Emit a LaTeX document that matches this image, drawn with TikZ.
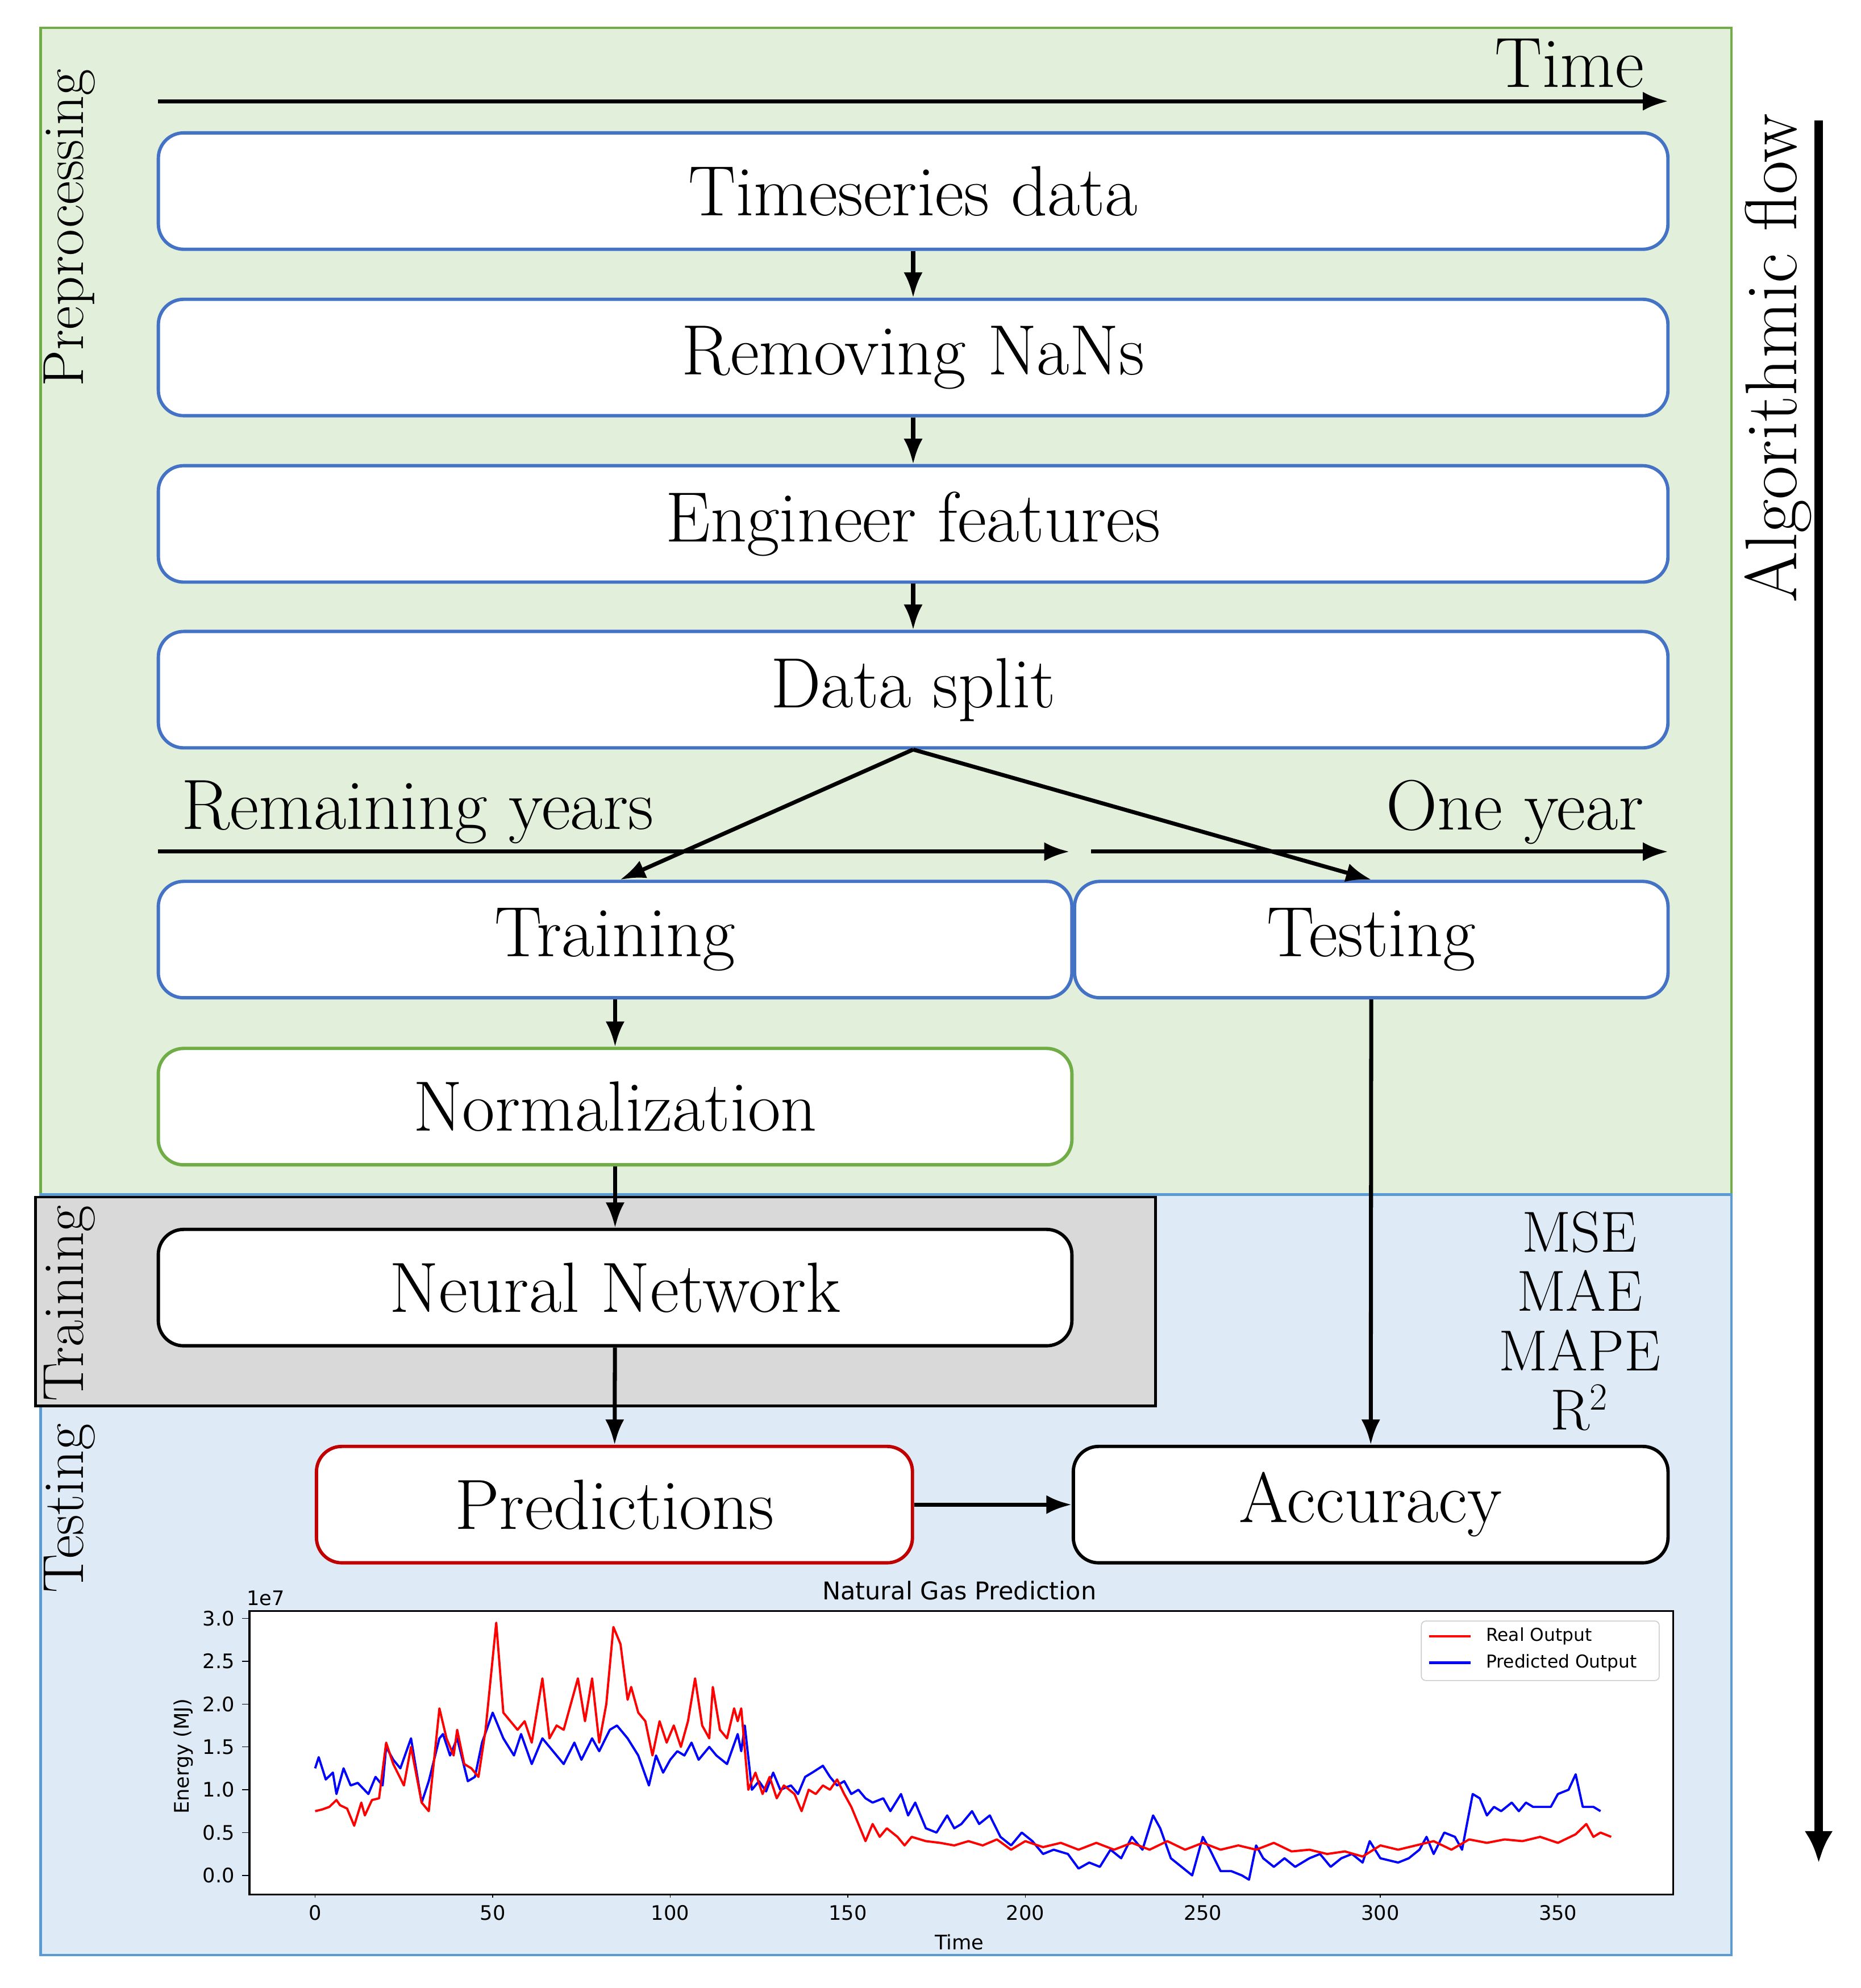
\documentclass[tikz,border=0pt]{standalone}
\usepackage{fontspec}
\newfontfamily\chartsans{DejaVu Sans}
\usetikzlibrary{arrows.meta}
\definecolor{bggreen}{HTML}{E2EFDA}
\definecolor{edgegreen}{HTML}{70AD47}
\definecolor{bgblue}{HTML}{DEEBF7}
\definecolor{edgeblue}{HTML}{5B9BD5}
\definecolor{boxblue}{HTML}{4472C4}
\definecolor{boxred}{HTML}{C00000}
\definecolor{graybg}{HTML}{D9D9D9}
\begin{document}
\begin{tikzpicture}[x=0.02cm,y=-0.02cm,
  box/.style={draw=boxblue,fill=white,line width=1.5pt,rounded corners=0.4cm,minimum height=1.84cm,font=\fontsize{32}{38}\selectfont,inner sep=0pt},
  arr/.style={line width=1.8pt,-{Latex[length=0.4cm,width=0.3cm]}},
  side/.style={rotate=90,font=\fontsize{26}{30}\selectfont},
  tick/.style={font=\chartsans\fontsize{9}{11}\selectfont}]
\useasboundingbox (0,0) rectangle (1470,1571);
\fill[white] (0,0) rectangle (1470,1571);
% backgrounds
\draw[fill=bggreen,draw=edgegreen,line width=1.2pt] (32,22) rectangle (1368,944);
\draw[fill=bgblue,draw=edgeblue,line width=1.2pt] (32,944) rectangle (1368,1545);
\draw[fill=graybg,draw=black,line width=1.2pt] (28,946) rectangle (913,1111);
% side labels
\node[side] (lpre) at (55,180) {Preprocessing};
\node[side] (ltr) at (55,1030) {Training};
\node[side] (lte) at (55,1192) {Testing};
% time arrow
\coordinate (t0) at (125,80); \coordinate (t1) at (1318,80);
\draw[arr] (t0) -- (t1);
\node[font=\fontsize{32}{38}\selectfont] (ltime) at (1240,50) {Time};
% boxes
\node[box,minimum width=23.86cm] (ts) at (721.5,151) {Timeseries data};
\node[box,minimum width=23.86cm] (rn) at (721.5,282.5) {Removing NaNs};
\node[box,minimum width=23.86cm] (ef) at (721.5,414) {Engineer features};
\node[box,minimum width=23.86cm] (ds) at (721.5,545) {Data split};
\coordinate (r0) at (125,673); \coordinate (r1) at (845,673);
\coordinate (o0) at (862,673); \coordinate (o1) at (1318,673);
\draw[arr] (r0) -- (r1);
\draw[arr] (o0) -- (o1);
\node[font=\fontsize{32}{38}\selectfont] (lrem) at (330,642) {Remaining years};
\node[font=\fontsize{32}{38}\selectfont] (lone) at (1197,642) {One year};
\node[box,minimum width=14.44cm] (tr) at (486,742.5) {Training};
\node[box,minimum width=9.38cm] (te) at (1083.5,742.5) {Testing};
\node[box,draw=edgegreen,minimum width=14.44cm] (no) at (486,874.5) {Normalization};
\node[box,draw=black,minimum width=14.44cm] (nn) at (486,1017.5) {Neural Network};
\node[box,draw=boxred,minimum width=9.42cm] (pr) at (485.5,1189) {Predictions};
\node[box,draw=black,minimum width=9.4cm] (ac) at (1083,1189) {Accuracy};
\node[align=center,font=\fontsize{26}{26.7}\selectfont] (met) at (1248,1044) {MSE\\MAE\\MAPE\\R$^2$};
% connectors
\draw[arr] (ts) -- (rn);
\draw[arr] (rn) -- (ef);
\draw[arr] (ef) -- (ds);
\draw[arr] (ds.south) -- ([xshift=0.08cm]tr.north);
\draw[arr] (ds.south) -- (te.north);
\draw[arr] (tr) -- (no);
\draw[arr] (no) -- (nn);
\draw[arr] (nn) -- (pr);
\draw[arr] (te) -- (ac);
\draw[arr] (pr) -- (ac);
% algorithmic flow
\coordinate (a0) at (1437,95); \coordinate (a1) at (1437,1472);
\draw[line width=4pt,-{Latex[length=0.5cm,width=0.45cm]}] (a0) -- (a1);
\node[rotate=90,font=\fontsize{33}{38}\selectfont] (lalg) at (1405,283) {Algorithmic flow};
% chart
\fill[white] (197,1273) rectangle (1322,1497);
\node[font=\chartsans\fontsize{11}{13}\selectfont] (ctitle) at (758,1257) {Natural Gas Prediction};
\node[tick] (c1e7) at (210,1263) {1e7};
\node[tick,rotate=90] (cylab) at (145,1388) {Energy (MJ)};
\node[tick] (cxlab) at (758,1535) {Time};
\begin{scope}[shift={(249,1482)},x=0.05612cm,y=1.354cm]
 \begin{scope}
 \clip (-18.5,-0.11) rectangle (382,3.0);
 \draw[blue,line width=1pt,line join=round] plot coordinates {(0,1.25)(1,1.38)(3,1.12)(5,1.2)(6,0.95)(8,1.25)(10,1.05)(12,1.08)(15,0.95)(17,1.15)(19,1.05)(20,1.5)(22,1.35)(24,1.25)(27,1.6)(30,0.85)(32,1.1)(35,1.6)(36,1.65)(38,1.4)(40,1.6)(43,1.1)(45,1.15)(47,1.55)(50,1.9)(53,1.6)(56,1.4)(58,1.65)(61,1.3)(64,1.6)(67,1.45)(70,1.3)(73,1.55)(75,1.35)(78,1.6)(80,1.45)(83,1.7)(85,1.75)(88,1.6)(91,1.4)(94,1.05)(96,1.4)(98,1.2)(100,1.35)(102,1.45)(104,1.4)(106,1.55)(108,1.35)(111,1.5)(113,1.4)(116,1.3)(119,1.65)(120,1.45)(121,1.75)(123,1.0)(125,1.1)(127,0.98)(129,1.2)(131,1.0)(134,1.05)(136,0.95)(138,1.15)(140,1.2)(143,1.28)(145,1.15)(147,1.05)(149,1.1)(151,0.95)(153,1.0)(155,0.9)(157,0.85)(160,0.9)(162,0.75)(165,0.95)(167,0.7)(169,0.85)(172,0.55)(175,0.5)(178,0.7)(180,0.55)(182,0.6)(185,0.75)(187,0.6)(190,0.7)(193,0.45)(196,0.35)(199,0.5)(202,0.4)(205,0.25)(208,0.3)(212,0.25)(215,0.08)(218,0.15)(221,0.1)(224,0.3)(227,0.2)(230,0.45)(233,0.3)(236,0.7)(238,0.55)(241,0.2)(244,0.1)(247,0.0)(250,0.45)(252,0.3)(255,0.05)(258,0.05)(261,0.0)(263,-0.05)(265,0.35)(267,0.2)(270,0.1)(273,0.2)(276,0.1)(280,0.2)(283,0.25)(286,0.1)(289,0.2)(292,0.25)(295,0.15)(297,0.4)(300,0.2)(305,0.15)(308,0.2)(311,0.3)(313,0.45)(315,0.25)(318,0.5)(321,0.45)(323,0.3)(326,0.95)(328,0.9)(330,0.7)(332,0.8)(334,0.75)(337,0.85)(339,0.75)(341,0.85)(343,0.8)(346,0.8)(348,0.8)(350,0.95)(353,1.0)(355,1.18)(357,0.8)(360,0.8)(362,0.75)};
 \draw[red,line width=1pt,line join=round] plot coordinates {(0,0.75)(2,0.77)(4,0.8)(6,0.88)(7,0.82)(9,0.78)(11,0.58)(13,0.85)(14,0.7)(16,0.88)(18,0.9)(20,1.55)(22,1.3)(25,1.05)(27,1.5)(30,0.85)(32,0.75)(35,1.95)(37,1.6)(39,1.4)(40,1.7)(42,1.3)(44,1.25)(46,1.15)(48,1.7)(51,2.95)(53,1.9)(55,1.8)(57,1.7)(59,1.8)(61,1.55)(64,2.3)(66,1.6)(68,1.75)(70,1.7)(74,2.3)(76,1.8)(78,2.3)(80,1.55)(82,2.0)(84,2.9)(86,2.7)(88,2.05)(89,2.2)(91,1.9)(93,1.8)(95,1.4)(97,1.8)(99,1.55)(101,1.75)(103,1.5)(105,1.8)(107,2.3)(109,1.75)(111,1.6)(112,2.2)(114,1.7)(116,1.6)(118,1.95)(119,1.8)(120,1.95)(122,1.0)(124,1.2)(126,0.95)(128,1.15)(130,0.9)(132,1.05)(135,0.95)(137,0.75)(139,1.0)(141,0.95)(143,1.05)(145,1.0)(147,1.12)(149,0.95)(151,0.8)(153,0.6)(155,0.4)(157,0.6)(159,0.45)(161,0.55)(164,0.45)(166,0.35)(168,0.45)(172,0.4)(176,0.38)(180,0.35)(184,0.4)(188,0.35)(192,0.42)(196,0.3)(200,0.4)(205,0.33)(210,0.38)(215,0.3)(220,0.38)(225,0.3)(230,0.38)(235,0.3)(240,0.4)(245,0.3)(250,0.38)(255,0.3)(260,0.35)(265,0.3)(270,0.38)(275,0.28)(280,0.3)(285,0.25)(290,0.28)(295,0.22)(300,0.35)(305,0.3)(310,0.35)(315,0.4)(320,0.3)(325,0.42)(330,0.38)(335,0.42)(340,0.4)(345,0.45)(350,0.38)(355,0.48)(358,0.6)(360,0.45)(362,0.5)(365,0.45)};
 \end{scope}
 \foreach \v in {0.0,0.5,1.0,1.5,2.0,2.5,3.0} {
   \draw (-18.5,\v) -- (-20.5,\v);
   \node[tick,anchor=east] at (-20.5,\v) {\v};
 }
 \foreach \t in {0,50,...,350} {
   \draw (\t,-0.227) -- (\t,-0.257);
   \node[tick,anchor=north] at (\t,-0.257) {\t};
 }
\end{scope}
\node[draw=black,line width=0.8pt,minimum width=22.5cm,minimum height=4.48cm,inner sep=0pt] (cframe) at (759.5,1385) {};
\node[draw=gray!40,fill=white,rounded corners=2pt,minimum width=3.76cm,minimum height=0.94cm,inner sep=0pt] (leg) at (1217,1304.5) {};
\coordinate (lr0) at (1129,1293); \coordinate (lr1) at (1162,1293);
\coordinate (lb0) at (1129,1314); \coordinate (lb1) at (1162,1314);
\draw[red,line width=1.2pt] (lr0) -- (lr1);
\draw[blue,line width=1.2pt] (lb0) -- (lb1);
\node[tick,anchor=west,font=\chartsans\fontsize{8}{10}\selectfont] (lreal) at (1168,1293) {Real Output};
\node[tick,anchor=west,font=\chartsans\fontsize{8}{10}\selectfont] (lpred) at (1168,1314) {Predicted Output};
\end{tikzpicture}
\end{document}
